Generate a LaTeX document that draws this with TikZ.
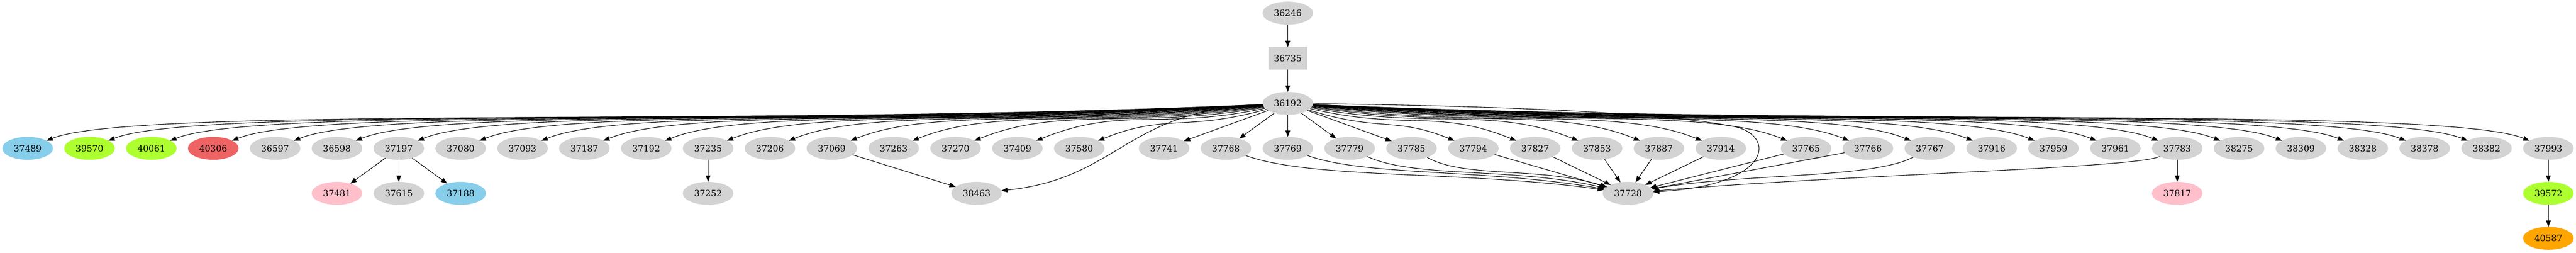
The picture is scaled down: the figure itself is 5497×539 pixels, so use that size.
\documentclass[tikz,border=0pt]{standalone}
\usepackage{fontspec}
\setmainfont{DejaVu Serif}
\usetikzlibrary{shapes.geometric,arrows.meta}
\definecolor{lgray}{HTML}{D3D3D3}
\definecolor{skyb}{HTML}{87CEEB}
\definecolor{gyel}{HTML}{ADFF2F}
\definecolor{ired}{HTML}{EE6363}
\definecolor{pnk}{HTML}{FFC0CB}
\definecolor{orng}{HTML}{FFA500}
\begin{document}
\begin{tikzpicture}[x=0.1pt,y=0.1pt,
  gnode/.style={ellipse, minimum width=10.8pt, minimum height=4.9pt, inner sep=0pt, outer sep=0pt, fill=lgray, font=\fontsize{1.867}{2.2}\selectfont},
  gbox/.style={rectangle, minimum width=8.3pt, minimum height=4.8pt, inner sep=0pt, outer sep=0pt, fill=lgray, font=\fontsize{1.867}{2.2}\selectfont},
  edge/.style={draw=black, line width=0.12pt, -{Triangle[length=1.35pt,width=1pt]}}]
\useasboundingbox (0,0) rectangle (5497,-539);

% top chain
\node[gnode] (n36246) at (2748,-28) {36246};
\node[gbox]  (n36735) at (2748,-124.5) {36735};
\node[gnode] (n36192) at (2748,-220.5) {36192};

% main row
\foreach \n/\xx/\c in {37489/59/skyb, 39570/191/gyel, 40061/323/gyel, 40306/455/ired,
  36597/587/lgray, 36598/719/lgray, 37197/851/lgray, 37080/983/lgray, 37093/1115/lgray,
  37187/1247/lgray, 37192/1379/lgray, 37235/1511/lgray, 37206/1643/lgray, 37069/1775/lgray,
  37263/1907/lgray, 37270/2039/lgray, 37409/2171/lgray, 37580/2303/lgray, 37741/2484/lgray,
  37768/2616/lgray, 37769/2748/lgray, 37779/2880/lgray, 37785/3012/lgray, 37794/3144/lgray,
  37827/3276/lgray, 37853/3408/lgray, 37887/3540/lgray, 37914/3672/lgray, 37765/3854/lgray,
  37766/3986/lgray, 37767/4118/lgray, 37916/4250/lgray, 37959/4382/lgray, 37961/4514/lgray,
  37783/4646/lgray, 38275/4778/lgray, 38309/4910/lgray, 38328/5042/lgray, 38378/5174/lgray,
  38382/5306/lgray, 37993/5438/lgray}
  {\node[gnode, fill=\c] (n\n) at (\xx,-316.5) {\n};}

% third row
\foreach \n/\xx/\c in {37481/719/pnk, 37615/851/lgray, 37188/983/skyb, 37252/1511/lgray,
  38463/2084/lgray, 37728/3474/lgray, 37817/4646/pnk, 39572/5438/gyel}
  {\node[gnode, fill=\c] (n\n) at (\xx,-412.5) {\n};}

% fourth row
\node[gnode, fill=orng] (n40587) at (5438,-508.5) {40587};

% edges of the top chain
\draw[edge] (n36246) -- (n36735);
\draw[edge] (n36735) -- (n36192);

% fan to the left
\foreach \n/\xx in {37489/59, 39570/191, 40061/323, 40306/455, 36597/587, 36598/719,
  37197/851, 37080/983, 37093/1115, 37187/1247, 37192/1379, 37235/1511, 37206/1643,
  37069/1775, 37263/1907, 37270/2039, 37409/2171, 37580/2303}
{
  \pgfmathsetmacro\ddx{2748-\xx}
  \pgfmathsetmacro\oa{180+min(20,7000/\ddx)}
  \pgfmathsetmacro\od{0.04*\ddx}
  \pgfmathsetmacro\id{min(20,0.035*\ddx)}
  \draw[edge] (n36192) to[out=\oa, in=22, out distance=\od pt, in distance=\id pt] (n\n);
}

% fan to the right
\foreach \n/\xx in {37794/3144, 37827/3276, 37853/3408, 37887/3540, 37914/3672,
  37765/3854, 37766/3986, 37767/4118, 37916/4250, 37959/4382, 37961/4514, 37783/4646,
  38275/4778, 38309/4910, 38328/5042, 38378/5174, 38382/5306, 37993/5438}
{
  \pgfmathsetmacro\ddx{\xx-2748}
  \pgfmathsetmacro\oa{-min(20,7000/\ddx)}
  \pgfmathsetmacro\od{0.04*\ddx}
  \pgfmathsetmacro\id{min(20,0.035*\ddx)}
  \draw[edge] (n36192) to[out=\oa, in=158, out distance=\od pt, in distance=\id pt] (n\n);
}

% near, straight fan edges
\foreach \n in {37741, 37768, 37769, 37779, 37785}
  {\draw[edge] (n36192) -- (n\n);}

% long curves from 36192
\draw[edge] (n36192) .. controls (2400,-235) and (2390,-380) .. (n38463);
\draw[edge] (n36192) .. controls (3200,-226) and (3550,-240) .. (3700,-270)
                     .. controls (3790,-288) and (3785,-395) .. (n37728);

% into 37728
\draw[edge] (n37768) to[out=-20, in=172, out distance=15pt, in distance=30pt] (n37728);
\draw[edge] (n37769) to[out=-20, in=170, out distance=13pt, in distance=25pt] (n37728);
\draw[edge] (n37779) to[out=-25, in=167, out distance=11pt, in distance=20pt] (n37728);
\draw[edge] (n37785) to[out=-30, in=163, out distance=9pt, in distance=15pt] (n37728);
\foreach \n in {37794, 37827, 37853, 37887, 37914, 37765, 37766}
  {\draw[edge] (n\n) -- (n37728);}
\draw[edge] (n37767) to[out=-152, in=10, out distance=10pt, in distance=20pt] (n37728);
\draw[edge] (n37783) to[out=-155, in=5, out distance=6pt, in distance=40pt] (n37728);

% other children
\draw[edge] (n37197) -- (n37481);
\draw[edge] (n37197) -- (n37615);
\draw[edge] (n37197) -- (n37188);
\draw[edge] (n37235) -- (n37252);
\draw[edge] (n37069) -- (n38463);
\draw[edge] (n37783) -- (n37817);
\draw[edge] (n37993) -- (n39572);
\draw[edge] (n39572) -- (n40587);
\end{tikzpicture}
\end{document}
